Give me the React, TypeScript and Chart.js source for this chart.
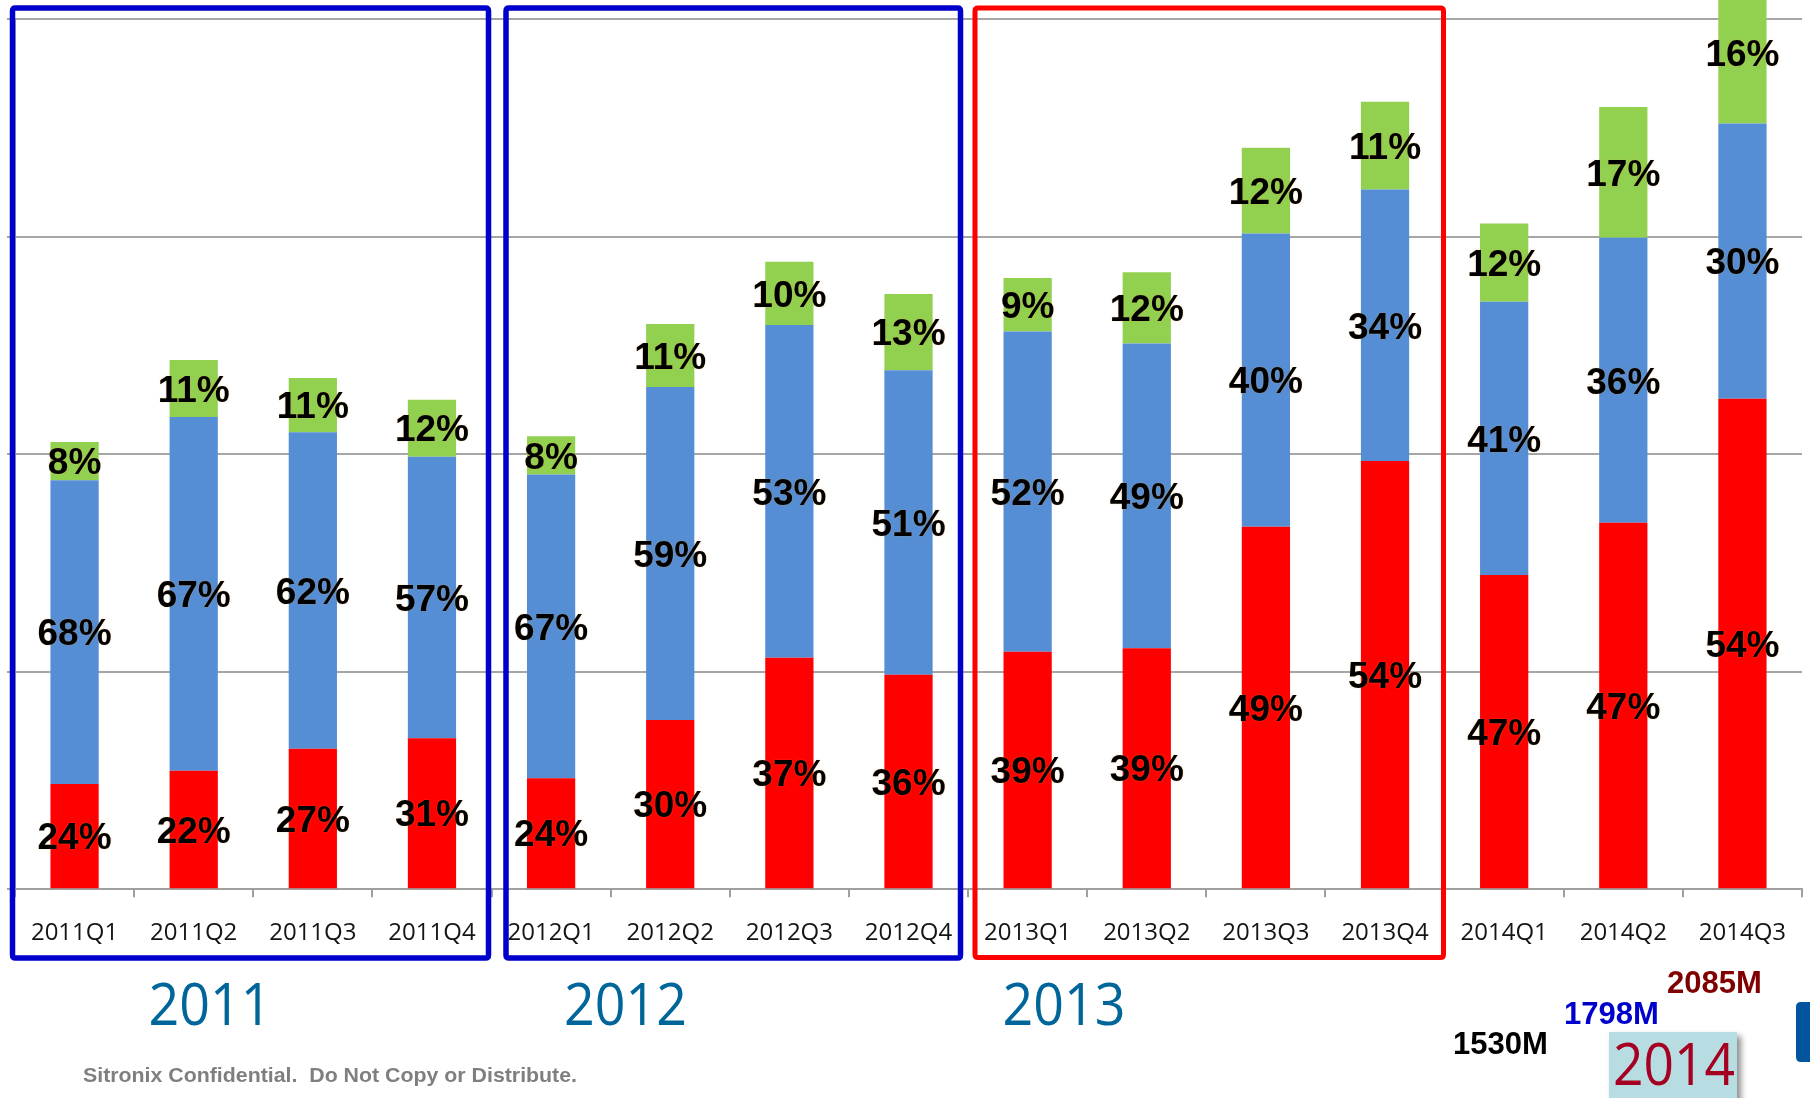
import { useEffect, useRef } from 'react';
import { Chart, registerables } from 'chart.js';

Chart.register(...registerables);

const quarters = [
  '2011Q1', '2011Q2', '2011Q3', '2011Q4',
  '2012Q1', '2012Q2', '2012Q3', '2012Q4',
  '2013Q1', '2013Q2', '2013Q3', '2013Q4',
  '2014Q1', '2014Q2', '2014Q3',
];
const redValues = [242, 272, 323, 347, 255, 389, 532, 493, 546, 554, 833, 984, 722, 842, 1127];
const blueValues = [698, 813, 727, 647, 698, 765, 765, 700, 736, 700, 674, 624, 628, 655, 633];
const greenValues = [88, 131, 125, 131, 88, 145, 145, 175, 123, 164, 197, 202, 180, 301, 325];

const redPct = ['24%', '22%', '27%', '31%', '24%', '30%', '37%', '36%', '39%', '39%', '49%', '54%', '47%', '47%', '54%'];
const bluePct = ['68%', '67%', '62%', '57%', '67%', '59%', '53%', '51%', '52%', '49%', '40%', '34%', '41%', '36%', '30%'];
const greenPct = ['8%', '11%', '11%', '12%', '8%', '11%', '10%', '13%', '9%', '12%', '12%', '11%', '12%', '17%', '16%'];

const yTicks = [0, 500, 1000, 1500, 2000];

const yearLabels = ['2011', '2012', '2013'];
const lastYearLabel = '2014';
const totalLabels = ['1530M', '1798M', '2085M'];
const footnote = 'Sitronix Confidential.  Do Not Copy or Distribute.';

const RED = '#FF0000';
const BLUE = '#558ED5';
const GREEN = '#92D050';

function fitText(
  ctx: CanvasRenderingContext2D,
  text: string,
  x: number,
  baseline: number,
  font: string,
  color: string,
  targetW: number,
  align: CanvasTextAlign,
) {
  ctx.save();
  ctx.font = font;
  const w = ctx.measureText(text).width;
  const s = targetW / w;
  ctx.translate(x, baseline);
  ctx.scale(s, 1);
  ctx.textAlign = align;
  ctx.textBaseline = 'alphabetic';
  ctx.fillStyle = color;
  ctx.fillText(text, 0, 0);
  ctx.restore();
}

function roundRectPath(ctx: CanvasRenderingContext2D, x: number, y: number, w: number, h: number, r: number) {
  ctx.beginPath();
  ctx.moveTo(x + r, y);
  ctx.lineTo(x + w - r, y);
  ctx.quadraticCurveTo(x + w, y, x + w, y + r);
  ctx.lineTo(x + w, y + h - r);
  ctx.quadraticCurveTo(x + w, y + h, x + w - r, y + h);
  ctx.lineTo(x + r, y + h);
  ctx.quadraticCurveTo(x, y + h, x, y + h - r);
  ctx.lineTo(x, y + r);
  ctx.quadraticCurveTo(x, y, x + r, y);
  ctx.closePath();
}

export default function App() {
  const ref = useRef<HTMLCanvasElement>(null);

  useEffect(() => {
    document.body.style.margin = '0';
    document.body.style.overflow = 'hidden';
    const canvas = ref.current;
    if (!canvas) return;

    const labelSets = [redPct, bluePct, greenPct];

    const overlay = {
      id: 'overlay',
      afterDatasetsDraw(chart: any) {
        const ctx: CanvasRenderingContext2D = chart.ctx;
        ctx.save();
        const size = 37;
        ctx.font = `bold ${size}px "Liberation Sans", Arial, sans-serif`;
        ctx.textAlign = 'center';
        ctx.textBaseline = 'alphabetic';
        ctx.fillStyle = '#000';
        ctx.shadowColor = 'rgba(255,170,60,0.55)';
        ctx.shadowBlur = 1.5;
        chart.data.datasets.forEach((_ds: any, i: number) => {
          const meta = chart.getDatasetMeta(i);
          meta.data.forEach((bar: any, j: number) => {
            const cy = (bar.y + bar.base) / 2;
            ctx.fillText(labelSets[i][j], bar.x, cy + size * 0.358);
          });
        });
        ctx.restore();
      },
      afterDraw(chart: any) {
        const ctx: CanvasRenderingContext2D = chart.ctx;
        ctx.save();
        // year boxes
        ctx.lineJoin = 'round';
        ctx.lineWidth = 5.5;
        ctx.strokeStyle = '#0000CC';
        roundRectPath(ctx, 12.5, 8, 476, 950, 3);
        ctx.stroke();
        roundRectPath(ctx, 506, 8, 454.5, 950, 3);
        ctx.stroke();
        ctx.lineWidth = 5;
        ctx.strokeStyle = '#FF0000';
        roundRectPath(ctx, 975, 8, 468.5, 949.5, 3);
        ctx.stroke();
        ctx.restore();

        // big year labels
        const yearFont = '59px "Open Sans", "Noto Sans", sans-serif';
        const yearCenters = [210, 625.5, 1064];
        yearLabels.forEach((t, i) => {
          fitText(ctx, t, yearCenters[i], 1024.5, yearFont, '#00669A', 123, 'center');
        });

        // footnote
        fitText(ctx, footnote, 83, 1082, 'bold 21px "Liberation Sans", Arial, sans-serif', '#7F7F7F', 494, 'left');

        // totals
        const totFont = 'bold 31px "Liberation Sans", Arial, sans-serif';
        const totX = [1453, 1564, 1667];
        const totBase = [1054, 1024, 993];
        const totColors = ['#000000', '#0000CC', '#800000'];
        totalLabels.forEach((t, i) => {
          fitText(ctx, t, totX[i], totBase[i], totFont, totColors[i], 95, 'left');
        });

        // 2014 box with shadow
        ctx.save();
        ctx.shadowColor = 'rgba(0,0,0,0.45)';
        ctx.shadowBlur = 6;
        ctx.shadowOffsetX = 4;
        ctx.shadowOffsetY = 4;
        ctx.fillStyle = '#B7DDE3';
        ctx.fillRect(1609, 1032, 128, 80);
        ctx.restore();
        fitText(ctx, lastYearLabel, 1674, 1085, yearFont, '#A50021', 122, 'center');

        // blue shape at the right edge
        ctx.save();
        ctx.fillStyle = '#00559E';
        roundRectPath(ctx, 1796, 1002, 30, 60, 5);
        ctx.fill();
        ctx.restore();
      },
    };

    const chart = new Chart(canvas, {
      type: 'bar',
      data: {
        labels: quarters,
        datasets: [
          { label: 'red', data: redValues, backgroundColor: RED, stack: 's', clip: false },
          { label: 'blue', data: blueValues, backgroundColor: BLUE, stack: 's', clip: false },
          { label: 'green', data: greenValues, backgroundColor: GREEN, stack: 's', clip: false },
        ],
      },
      options: {
        responsive: false,
        animation: false,
        devicePixelRatio: 1,
        layout: { padding: { left: 7, right: 8, top: 19, bottom: 128 } },
        plugins: { legend: { display: false }, tooltip: { enabled: false } },
        datasets: { bar: { categoryPercentage: 1, barPercentage: 0.405 } },
        scales: {
          x: {
            stacked: true,
            grid: { offset: true, drawOnChartArea: false, drawTicks: true, tickLength: 8, color: '#a0a0a0', lineWidth: 2 },
            border: { display: true, color: '#a0a0a0', width: 2 },
            ticks: {
              font: { family: '"Open Sans", "Noto Sans", sans-serif', size: 24 },
              color: '#141414',
              padding: 22,
              maxRotation: 0,
              autoSkip: false,
            },
          },
          y: {
            stacked: true,
            min: yTicks[0],
            max: yTicks[yTicks.length - 1],
            afterBuildTicks: (scale: any) => {
              scale.ticks = yTicks.map((v) => ({ value: v }));
            },
            grid: { color: '#a6a6a6', lineWidth: 2, tickLength: 8, drawTicks: true },
            border: { display: true, color: '#a6a6a6', width: 2 },
            ticks: { display: false },
          },
        },
      },
      plugins: [overlay],
    } as any);

    return () => chart.destroy();
  }, []);

  return (
    <div style={{ position: 'absolute', left: 0, top: 0, width: 1810, height: 1098, background: '#fff', overflow: 'hidden' }}>
      <canvas ref={ref} width={1810} height={1098} style={{ display: 'block', width: 1810, height: 1098 }} />
    </div>
  );
}
